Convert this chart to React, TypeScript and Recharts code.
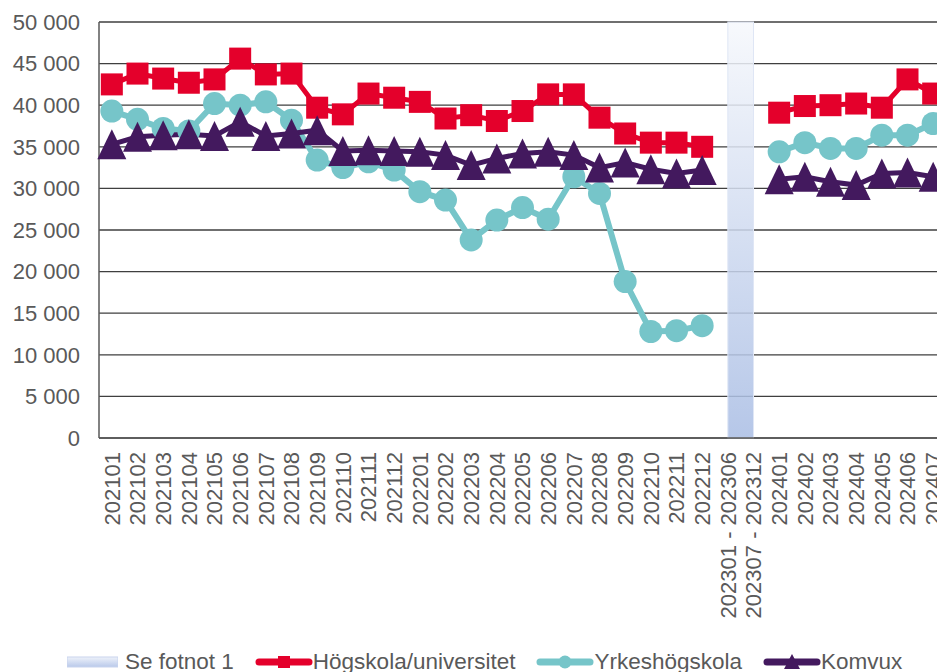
import { CartesianGrid, Line, LineChart, ReferenceArea, XAxis, YAxis } from "recharts";

const periods = [
  "202101", "202102", "202103", "202104", "202105", "202106",
  "202107", "202108", "202109", "202110", "202111", "202112",
  "202201", "202202", "202203", "202204", "202205", "202206",
  "202207", "202208", "202209", "202210", "202211", "202212",
  "202301 - 202306", "202307 - 202312",
  "202401", "202402", "202403", "202404", "202405", "202406", "202407"
];

const hogskola = [
  42500, 43800, 43200, 42700, 43100, 45600, 43700, 43800, 39700, 38900, 41400, 40900,
  40400, 38400, 38800, 38100, 39300, 41300, 41300, 38500, 36600, 35500, 35500, 35000,
  null, null,
  39100, 39900, 40000, 40200, 39700, 43100, 41400
];

const yrkeshogskola = [
  39300, 38300, 37200, 36900, 40200, 40000, 40400, 38200, 33400, 32500, 33200, 32200,
  29600, 28600, 23800, 26200, 27700, 26300, 31400, 29400, 18800, 12800, 12900, 13500,
  null, null,
  34400, 35500, 34800, 34800, 36400, 36400, 37800
];

const komvux = [
  35300, 36200, 36400, 36500, 36300, 38000, 36300, 36600, 37000, 34500, 34600, 34500,
  34400, 34000, 32800, 33600, 34200, 34400, 34000, 32500, 33100, 32300, 31800, 32200,
  null, null,
  31100, 31400, 30800, 30400, 31800, 31900, 31400
];

const yTicks = [0, 5000, 10000, 15000, 20000, 25000, 30000, 35000, 40000, 45000, 50000];

const bandStart = "202301 - 202306";
const bandEnd = "202307 - 202312";

const RED = "#e4002b";
const TEAL = "#76c5c9";
const PURPLE = "#43195e";
const TEXT = "#595959";
const FONT = "'Liberation Sans', Arial, sans-serif";

const data = periods.map((period, i) => ({
  period,
  hogskola: hogskola[i],
  yrkes: yrkeshogskola[i],
  komvux: komvux[i]
}));

function formatThousands(v: number) {
  if (v === 0) return "0";
  const s = String(v);
  return s.slice(0, s.length - 3) + " " + s.slice(-3);
}

function XTick(props: any) {
  const { x, y, payload } = props;
  return (
    <text
      x={x}
      y={y}
      transform={`rotate(-90, ${x}, ${y})`}
      textAnchor="end"
      dy="0.36em"
      fill={TEXT}
      fontSize={22}
      fontFamily={FONT}
    >
      {payload.value}
    </text>
  );
}

// the area spans both bands fully; the original runs centre to centre
function BandShape(props: any) {
  const { x, y, width, height } = props;
  if (x == null || width == null) return <g />;
  return (
    <rect
      x={x + width / 4}
      y={y}
      width={width / 2}
      height={height}
      fill="url(#bandFill)"
      fillOpacity={0.85}
      stroke="#dfe6f5"
      strokeWidth={1}
    />
  );
}

function SquareDot(props: any) {
  const { cx, cy, index } = props;
  if (cx == null || cy == null || props.value == null) return <g key={index} />;
  return <rect key={index} x={cx - 11} y={cy - 11} width={22} height={22} fill={RED} />;
}

function CircleDot(props: any) {
  const { cx, cy, index } = props;
  if (cx == null || cy == null || props.value == null) return <g key={index} />;
  return <circle key={index} cx={cx} cy={cy} r={11.5} fill={TEAL} />;
}

function TriangleDot(props: any) {
  const { cx, cy, index } = props;
  if (cx == null || cy == null || props.value == null) return <g key={index} />;
  return (
    <polygon
      key={index}
      points={`${cx},${cy - 15} ${cx - 14.5},${cy + 15} ${cx + 14.5},${cy + 15}`}
      fill={PURPLE}
    />
  );
}

function LegendIcon({ kind }: { kind: string }) {
  if (kind === "band") {
    return (
      <svg width={51} height={12} style={{ display: "block" }}>
        <defs>
          <linearGradient id="legendBand" x1="0" y1="0" x2="0" y2="1">
            <stop offset="0%" stopColor="#eef2fa" />
            <stop offset="100%" stopColor="#b9c9ea" />
          </linearGradient>
        </defs>
        <rect x={0} y={1} width={51} height={10} fill="url(#legendBand)" stroke="#c9d4ee" strokeWidth={1} />
      </svg>
    );
  }
  const color = kind === "red" ? RED : kind === "teal" ? TEAL : PURPLE;
  return (
    <svg width={58} height={16} style={{ display: "block" }}>
      <line x1={4} y1={8} x2={54} y2={8} stroke={color} strokeWidth={7} strokeLinecap="round" />
      {kind === "red" && <rect x={23} y={2} width={12} height={12} fill={color} />}
      {kind === "teal" && <circle cx={29} cy={8} r={6.5} fill={color} />}
      {kind === "purple" && <polygon points="29,0 21,15 37,15" fill={color} />}
    </svg>
  );
}

const legendItems = [
  { kind: "band", label: "Se fotnot 1" },
  { kind: "red", label: "Högskola/universitet" },
  { kind: "teal", label: "Yrkeshögskola" },
  { kind: "purple", label: "Komvux" }
];

export default function App() {
  return (
    <div
      style={{
        position: "absolute",
        left: 0,
        top: 0,
        width: 937,
        height: 672,
        overflow: "hidden",
        background: "#fff"
      }}
    >
      <LineChart
        width={946}
        height={672}
        data={data}
        margin={{ top: 22, right: 0, bottom: 0, left: 0 }}
      >
        <defs>
          <linearGradient id="bandFill" x1="0" y1="0" x2="0" y2="1">
            <stop offset="0%" stopColor="#f6f8fc" />
            <stop offset="100%" stopColor="#a9bde4" />
          </linearGradient>
        </defs>
        <CartesianGrid vertical={false} stroke="#3f3f3f" strokeWidth={1.3} />
        <XAxis
          dataKey="period"
          type="category"
          scale="band"
          interval={0}
          height={234}
          tickLine={false}
          tickMargin={8}
          axisLine={{ stroke: "#595959", strokeWidth: 1.5 }}
          tick={<XTick />}
        />
        <YAxis
          width={99}
          domain={[0, 50000]}
          ticks={yTicks}
          interval={0}
          tickLine={false}
          tickMargin={13}
          axisLine={{ stroke: "#595959", strokeWidth: 1.5 }}
          tickFormatter={formatThousands}
          tick={{ fill: TEXT, fontSize: 22, fontFamily: FONT }}
        />
        <ReferenceArea
          x1={bandStart}
          x2={bandEnd}
          y1={0}
          y2={50000}
          shape={<BandShape />}
        />
        <Line
          dataKey="hogskola"
          stroke={RED}
          strokeWidth={5}
          dot={SquareDot}
          activeDot={false}
          isAnimationActive={false}
        />
        <Line
          dataKey="yrkes"
          stroke={TEAL}
          strokeWidth={6}
          dot={CircleDot}
          activeDot={false}
          isAnimationActive={false}
        />
        <Line
          dataKey="komvux"
          stroke={PURPLE}
          strokeWidth={5}
          dot={TriangleDot}
          activeDot={false}
          isAnimationActive={false}
        />
      </LineChart>
      <div
        style={{
          position: "absolute",
          left: 67,
          top: 651,
          height: 22,
          display: "flex",
          alignItems: "center",
          fontFamily: FONT,
          fontSize: 22.5,
          lineHeight: "22px",
          color: TEXT,
          whiteSpace: "nowrap"
        }}
      >
        {legendItems.map((item, i) => (
          <div
            key={item.label}
            style={{ display: "flex", alignItems: "center", marginLeft: i === 0 ? 0 : 21 }}
          >
            <LegendIcon kind={item.kind} />
            <span style={{ marginLeft: item.kind === "band" ? 7 : 0 }}>{item.label}</span>
          </div>
        ))}
      </div>
    </div>
  );
}
